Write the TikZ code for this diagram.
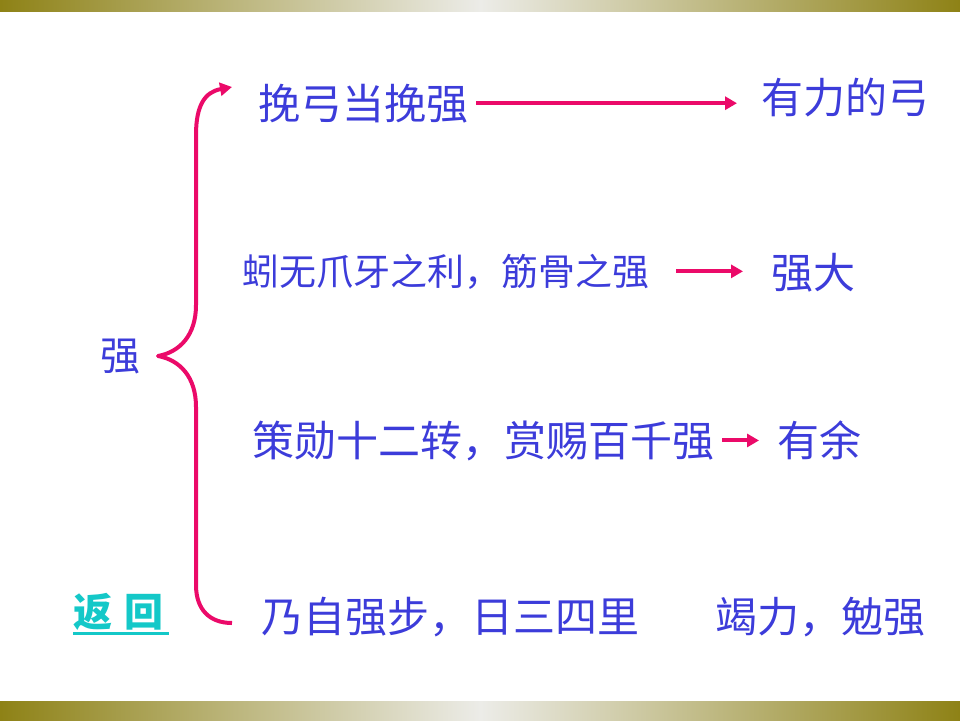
\documentclass[tikz,border=0pt]{standalone}
\usepackage{fontspec}
\newfontfamily\cjk{Noto Sans CJK SC}
\usetikzlibrary{arrows.meta}
\definecolor{txtblue}{RGB}{60,60,218}
\definecolor{brmag}{RGB}{235,10,105}
\definecolor{backteal}{RGB}{20,200,200}
\definecolor{olivebar}{RGB}{142,130,22}
\definecolor{lightbar}{RGB}{236,236,232}
\begin{document}
\begin{tikzpicture}[x=1pt,y=-1pt,
  txt/.style={inner sep=0pt, anchor=base west, text=txtblue, font=\cjk\fontsize{42}{42}\selectfont},
  smalltxt/.style={font=\cjk\fontsize{37}{37}\selectfont},
  arr/.style={draw=brmag, line width=4pt, -{Triangle[length=12pt,width=13pt]}},
  bracepath/.style={draw=brmag, line width=4pt, line join=round}]
\useasboundingbox (0,0) rectangle (960,720);
\fill[white] (0,0) rectangle (960,720);
% bars
\shade[left color=olivebar, right color=lightbar] (0,0) rectangle (481,11);
\shade[left color=lightbar, right color=olivebar] (480,0) rectangle (960,11);
\shade[left color=olivebar, right color=lightbar] (0,701) rectangle (481,720);
\shade[left color=lightbar, right color=olivebar] (480,701) rectangle (960,720);
% texts
\node[txt] (t1) at (258,119) {挽弓当挽强};
\node[txt] (r1) at (761,113) {有力的弓};
\node[txt,smalltxt] (t2) at (242,285) {蚓无爪牙之利，筋骨之强};
\node[txt] (r2) at (771,288) {强大};
\node[txt] (t3) at (252,456) {策勋十二转，赏赐百千强};
\node[txt] (r3) at (777,456) {有余};
\node[txt] (t4) at (261,632) {乃自强步，日三四里};
\node[txt] (r4) at (715,632) {竭力，勉强};
\node[txt,font=\cjk\fontsize{40}{40}\selectfont] (q) at (100,370) {强};
\node[inner sep=0pt, anchor=base west, text=backteal, font=\cjk\bfseries\fontsize{39}{39}\selectfont] (back) at (73,626) {返\hspace{12pt}回};
\draw[backteal, line width=3pt] ([yshift=-7pt]back.base west) -- ([yshift=-7pt,xshift=6pt]back.base east);
% arrows
\draw[arr, shorten <=8pt, shorten >=24pt] (t1.east) -- (t1.east -| r1.west);
\draw[arr, shorten <=27pt, shorten >=28pt] (t2.east) -- (t2.east -| r2.west);
\draw[arr, shorten <=8pt, shorten >=18pt] (t3.east) -- (t3.east -| r3.west);
% brace
\draw[bracepath, -{Triangle[length=12pt,width=13pt]}]
  (232,623) .. controls (210,623) and (196,610) .. (196,585) -- (196,407)
  .. controls (196,377) and (180,360) .. (158,356)
  .. controls (180,352) and (196,335) .. (196,305) -- (196,135)
  .. controls (196,105) and (205,92) .. (232,87);
\end{tikzpicture}
\end{document}
